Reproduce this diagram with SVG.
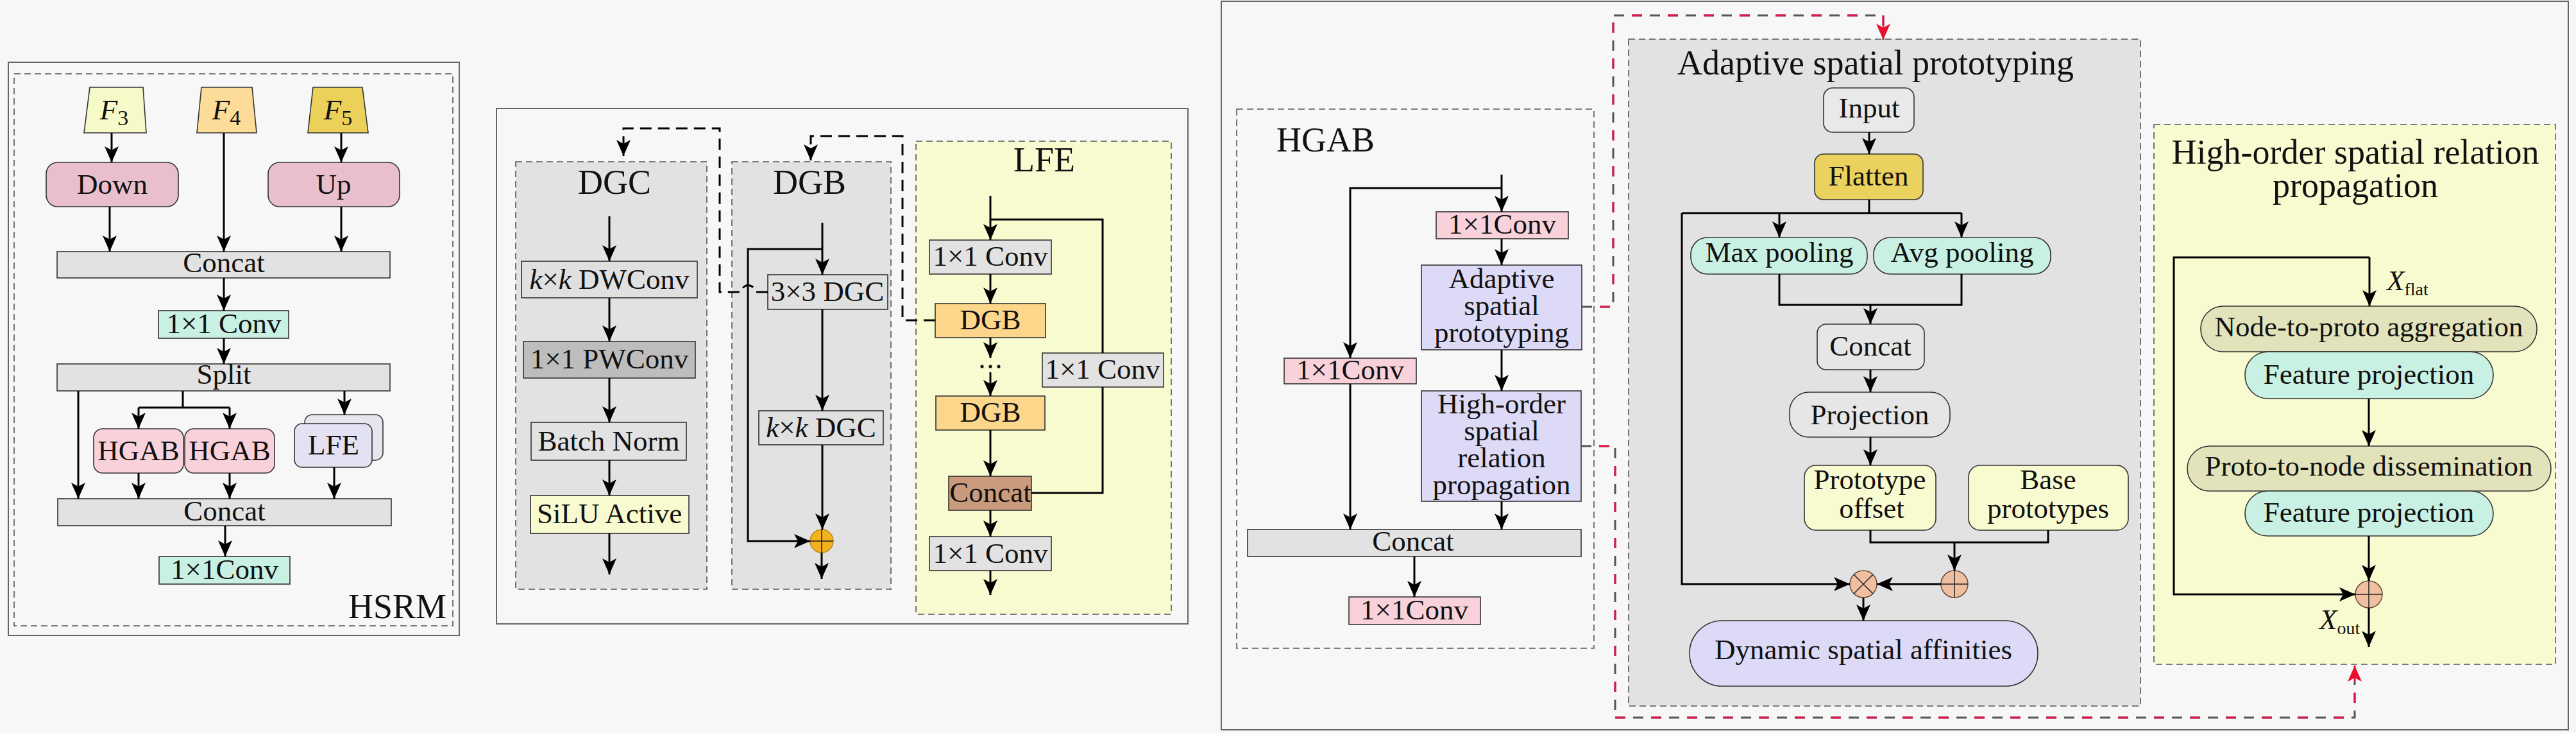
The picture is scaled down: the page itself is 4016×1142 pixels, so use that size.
<svg xmlns="http://www.w3.org/2000/svg" width="4016" height="1142" viewBox="0 0 4016 1142">
<style>
.t{font-family:"Liberation Serif","Times New Roman",serif;font-size:45px;fill:#111;text-anchor:middle}
.tt{font-size:54px}
.st{text-anchor:start}
.en{text-anchor:end}
.it{font-style:italic}
.b{stroke:#333;stroke-width:1.6}
.panel{fill:none;stroke:#666;stroke-width:2}
.dash{stroke:#555;stroke-width:1.6;stroke-dasharray:10 6}
.gray{fill:#e2e2e2}
.teal{fill:#c8f0e3}
.pink{fill:#e9bfcd}
.lpink{fill:#f9d1db}
.lav{fill:#dddaf7}
.yel{fill:#f8fbcf}
.c{fill:none;stroke:#000;stroke-width:3;marker-end:url(#ah)}
.l{fill:none;stroke:#000;stroke-width:3}
.dc{fill:none;stroke:#000;stroke-width:3;stroke-dasharray:18 10;marker-end:url(#ah)}
.rg{fill:none;stroke:#555;stroke-width:3;stroke-dasharray:16 12}
.rr{fill:none;stroke:#e3154b;stroke-width:3;stroke-dasharray:16 40;stroke-dashoffset:0}
.op{stroke:#222;stroke-width:1.5}
</style>
<defs>
<marker id="ah" viewBox="0 0 25 22" refX="25" refY="11" markerWidth="25" markerHeight="22" markerUnits="userSpaceOnUse" orient="auto"><path d="M0,0 L25,11 L0,22 L6,11 z" fill="#000"/></marker>
<marker id="ahr" viewBox="0 0 25 22" refX="25" refY="11" markerWidth="25" markerHeight="22" markerUnits="userSpaceOnUse" orient="auto"><path d="M0,0 L25,11 L0,22 L6,11 z" fill="#e8102f"/></marker>
</defs>
<rect x="0" y="0" width="4016" height="1142" fill="#f7f7f7"/>

<!-- ===== Panel HSRM ===== -->
<g id="hsrm-panel">
<rect x="13" y="97" width="703" height="893" class="panel"/>
<rect x="22" y="115" width="684" height="860" fill="none" class="dash"/>
<text x="696" y="963" class="t tt en">HSRM</text>
</g>
<g id="f3"><polygon points="140,136 223,136 228,207 131,207" fill="#f6fac8" class="b"/><text x="178" y="186" class="t it" font-size="52">F<tspan dy="9" font-size="34" font-style="normal">3</tspan></text></g>
<g id="f4"><polygon points="314,136 393,136 400,207 307,207" fill="#fcdc98" class="b"/><text x="353" y="186" class="t it" font-size="52">F<tspan dy="9" font-size="34" font-style="normal">4</tspan></text></g>
<g id="f5"><polygon points="488,136 565,136 574,207 480,207" fill="#ebd05a" class="b"/><text x="527" y="186" class="t it" font-size="52">F<tspan dy="9" font-size="34" font-style="normal">5</tspan></text></g>
<g id="down"><rect x="72" y="253" width="206" height="69" rx="18" class="pink b"/><text x="175" y="302" class="t" font-size="53">Down</text></g>
<g id="up"><rect x="418" y="253" width="205" height="69" rx="18" class="pink b"/><text x="520" y="302" class="t" font-size="53">Up</text></g>
<g id="hsrm-concat1"><rect x="89" y="392" width="519" height="41" class="gray b"/><text x="349" y="424" class="t">Concat</text></g>
<g id="hsrm-conv1"><rect x="247" y="484" width="203" height="43" class="teal b"/><text x="349" y="519" class="t">1×1 Conv</text></g>
<g id="hsrm-split"><rect x="89" y="567" width="519" height="42" class="gray b"/><text x="349" y="598" class="t">Split</text></g>
<g id="hgab1"><rect x="146" y="668" width="140" height="69" rx="14" class="lpink b"/><text x="216" y="717" class="t" font-size="44">HGAB</text></g>
<g id="hgab2"><rect x="288" y="668" width="140" height="69" rx="14" class="lpink b"/><text x="358" y="717" class="t" font-size="44">HGAB</text></g>
<g id="lfe-node"><rect x="475" y="646" width="122" height="71" rx="12" fill="#e6e6ee" class="b"/><rect x="459" y="660" width="121" height="68" rx="12" fill="#e3e1f2" class="b"/><text x="520" y="708" class="t">LFE</text></g>
<g id="hsrm-concat2"><rect x="90" y="777" width="520" height="42" class="gray b"/><text x="350" y="811" class="t">Concat</text></g>
<g id="hsrm-conv2"><rect x="248" y="867" width="204" height="43" class="teal b"/><text x="350" y="902" class="t">1×1Conv</text></g>

<!-- ===== Middle panel ===== -->
<g id="mid-panel"><rect x="774" y="169" width="1078" height="803" class="panel"/></g>
<g id="dgc"><rect x="804" y="252" width="298" height="666" class="gray dash"/><text x="958" y="302" class="t tt">DGC</text></g>
<g id="dwconv"><rect x="813" y="407" width="274" height="57" fill="#e0e0e0" class="b"/><text x="950" y="450" class="t"><tspan class="it">k</tspan>×<tspan class="it">k</tspan> DWConv</text></g>
<g id="pwconv"><rect x="816" y="532" width="268" height="57" fill="#bdbdbd" class="b"/><text x="950" y="574" class="t">1×1 PWConv</text></g>
<g id="bn"><rect x="828" y="658" width="242" height="59" class="gray b"/><text x="949" y="702" class="t">Batch Norm</text></g>
<g id="silu"><rect x="827" y="772" width="247" height="59" class="yel b"/><text x="950" y="815" class="t">SiLU Active</text></g>

<g id="dgb"><rect x="1141" y="252" width="248" height="666" class="gray dash"/><text x="1262" y="302" class="t tt">DGB</text></g>
<g id="dgc33"><rect x="1197" y="428" width="187" height="54" fill="#e0e0e0" class="b"/><text x="1290" y="469" class="t">3×3 DGC</text></g>
<g id="dgckk"><rect x="1183" y="640" width="194" height="53" fill="#e0e0e0" class="b"/><text x="1280" y="681" class="t"><tspan class="it">k</tspan>×<tspan class="it">k</tspan> DGC</text></g>
<g id="dgb-add"><circle cx="1281" cy="843" r="18" fill="#f5b21f" stroke="#b08a20" stroke-width="1.5"/><path d="M1263,843 H1299 M1281,825 V861" class="op"/></g>

<g id="lfe"><rect x="1428" y="220" width="398" height="737" class="yel dash"/><text x="1628" y="267" class="t tt">LFE</text></g>
<g id="lfe-conv1"><rect x="1449" y="374" width="190" height="53" class="gray b"/><text x="1544" y="414" class="t">1×1 Conv</text></g>
<g id="lfe-dgb1"><rect x="1458" y="473" width="172" height="53" fill="#fcd68a" class="b"/><text x="1544" y="513" class="t">DGB</text></g>
<g id="lfe-dots"><circle cx="1531" cy="571" r="2.6" fill="#111"/><circle cx="1544" cy="571" r="2.6" fill="#111"/><circle cx="1557" cy="571" r="2.6" fill="#111"/></g>
<g id="lfe-dgb2"><rect x="1459" y="617" width="170" height="53" fill="#fcd68a" class="b"/><text x="1544" y="657" class="t">DGB</text></g>
<g id="lfe-concat"><rect x="1479" y="742" width="129" height="53" fill="#c99a7b" class="b"/><text x="1544" y="782" class="t">Concat</text></g>
<g id="lfe-conv2"><rect x="1625" y="550" width="189" height="53" class="gray b"/><text x="1719" y="590" class="t">1×1 Conv</text></g>
<g id="lfe-conv3"><rect x="1449" y="836" width="190" height="53" class="gray b"/><text x="1544" y="877" class="t">1×1 Conv</text></g>

<!-- ===== Right panel ===== -->
<g id="right-panel"><rect x="1904" y="2" width="2100" height="1135" class="panel"/></g>
<g id="hgab"><rect x="1928" y="170" width="557" height="840" fill="#f7f7f7" class="dash"/><text x="1990" y="236" class="t tt st" font-size="52">HGAB</text></g>
<g id="hgab-conv1"><rect x="2239" y="330" width="206" height="42" class="lpink b"/><text x="2342" y="364" class="t">1×1Conv</text></g>
<g id="hgab-asp"><rect x="2216" y="413" width="250" height="132" class="lav b"/><text x="2341" y="449" class="t" font-size="42">Adaptive</text><text x="2341" y="491" class="t" font-size="42">spatial</text><text x="2341" y="533" class="t" font-size="42">prototyping</text></g>
<g id="hgab-conv2"><rect x="2002" y="558" width="206" height="40" class="lpink b"/><text x="2105" y="591" class="t">1×1Conv</text></g>
<g id="hgab-hosrp"><rect x="2216" y="609" width="249" height="172" class="lav b"/><text x="2341" y="644" class="t" font-size="39">High-order</text><text x="2341" y="686" class="t" font-size="39">spatial</text><text x="2341" y="728" class="t" font-size="39">relation</text><text x="2341" y="770" class="t" font-size="39">propagation</text></g>
<g id="hgab-concat"><rect x="1945" y="825" width="520" height="42" class="gray b"/><text x="2203" y="858" class="t">Concat</text></g>
<g id="hgab-conv3"><rect x="2103" y="930" width="205" height="43" class="lpink b"/><text x="2205" y="965" class="t">1×1Conv</text></g>

<g id="asp"><rect x="2539" y="61" width="798" height="1039" class="gray dash"/><text x="2924" y="116" class="t tt">Adaptive spatial prototyping</text></g>
<g id="asp-input"><rect x="2843" y="137" width="141" height="69" rx="14" fill="#e9e9e9" class="b"/><text x="2914" y="183" class="t">Input</text></g>
<g id="asp-flatten"><rect x="2829" y="240" width="169" height="71" rx="14" fill="#ebd15e" class="b"/><text x="2913" y="289" class="t">Flatten</text></g>
<g id="asp-max"><rect x="2636" y="370" width="275" height="57" rx="26" class="teal b"/><text x="2774" y="408" class="t">Max pooling</text></g>
<g id="asp-avg"><rect x="2921" y="370" width="276" height="57" rx="26" class="teal b"/><text x="3059" y="408" class="t">Avg pooling</text></g>
<g id="asp-concat"><rect x="2833" y="505" width="167" height="71" rx="14" fill="#e6e6e6" class="b"/><text x="2916" y="554" class="t">Concat</text></g>
<g id="asp-proj"><rect x="2790" y="611" width="250" height="70" rx="30" fill="#e6e6e6" class="b"/><text x="2915" y="661" class="t">Projection</text></g>
<g id="asp-offset"><rect x="2813" y="725" width="205" height="101" rx="18" class="yel b"/><text x="2915" y="762" class="t" font-size="41">Prototype</text><text x="2918" y="807" class="t" font-size="41">offset</text></g>
<g id="asp-base"><rect x="3069" y="725" width="249" height="101" rx="18" class="yel b"/><text x="3193" y="762" class="t" font-size="41">Base</text><text x="3193" y="807" class="t" font-size="41">prototypes</text></g>
<g id="asp-mul"><circle cx="2905" cy="910" r="21" fill="#efbfa0" stroke="#6a4a3a" stroke-width="1.5"/><path d="M2890,895 L2920,925 M2920,895 L2890,925" class="op"/></g>
<g id="asp-add"><circle cx="3047" cy="910" r="21" fill="#efbfa0" stroke="#6a4a3a" stroke-width="1.5"/><path d="M3026,910 H3068 M3047,889 V931" class="op"/></g>
<g id="asp-dyn"><rect x="2634" y="967" width="543" height="102" rx="51" class="lav b"/><text x="2905" y="1027" class="t">Dynamic spatial affinities</text></g>

<g id="hosrp"><rect x="3358" y="194" width="626" height="841" class="yel dash"/><text x="3672" y="255" class="t tt">High-order spatial relation</text><text x="3672" y="307" class="t tt">propagation</text></g>
<g id="hosrp-xflat"><text x="3721" y="452" class="t st it" font-size="43">X<tspan dy="8" font-size="28" font-style="normal">flat</tspan></text></g>
<g id="hosrp-n2p"><rect x="3431" y="477" width="524" height="71" rx="35" fill="#e2e3bb" class="b"/><text x="3693" y="524" class="t">Node-to-proto aggregation</text></g>
<g id="hosrp-fp1"><rect x="3500" y="548" width="387" height="73" rx="36" class="teal b"/><text x="3693" y="598" class="t">Feature projection</text></g>
<g id="hosrp-p2n"><rect x="3410" y="695" width="567" height="70" rx="35" fill="#e2e3bb" class="b"/><text x="3693" y="741" class="t">Proto-to-node dissemination</text></g>
<g id="hosrp-fp2"><rect x="3500" y="765" width="387" height="70" rx="35" class="teal b"/><text x="3693" y="813" class="t">Feature projection</text></g>
<g id="hosrp-add"><circle cx="3693" cy="926" r="21" fill="#efbfa0" stroke="#6a4a3a" stroke-width="1.5"/><path d="M3672,926 H3714 M3693,905 V947" class="op"/></g>
<g id="hosrp-xout"><text x="3616" y="980" class="t st it" font-size="43">X<tspan dy="8" font-size="28" font-style="normal">out</tspan></text></g>

<!-- ===== Connectors ===== -->
<g id="connectors">
<path d="M174,207 V253" class="c"/>
<path d="M532,207 V253" class="c"/>
<path d="M171,322 V392" class="c"/>
<path d="M349,207 V392" class="c"/>
<path d="M532,322 V392" class="c"/>
<path d="M349,433 V484" class="c"/>
<path d="M349,527 V567" class="c"/>
<path d="M122,609 V777" class="c"/>
<path d="M285,609 V635 M216,635 H358" class="l"/>
<path d="M216,635 V668" class="c"/>
<path d="M358,635 V668" class="c"/>
<path d="M537,609 V646" class="c"/>
<path d="M216,737 V777" class="c"/>
<path d="M358,737 V777" class="c"/>
<path d="M521,728 V777" class="c"/>
<path d="M351,819 V867" class="c"/>

<path d="M950,337 V407" class="c"/>
<path d="M950,464 V532" class="c"/>
<path d="M950,589 V658" class="c"/>
<path d="M950,717 V772" class="c"/>
<path d="M950,831 V895" class="c"/>

<path d="M1282,347 V428" class="c"/>
<path d="M1282,388 H1166 V843 H1263" class="c"/>
<path d="M1282,482 V640" class="c"/>
<path d="M1282,693 V825" class="c"/>
<path d="M1281,861 V902" class="c"/>
<path d="M1197,455 H1177 A10,10 0 0 0 1156,455 H1122 V200 H972 V243" class="dc"/>
<path d="M1458,499 H1407 V212 H1264 V250" class="dc"/>

<path d="M1544,305 V374" class="c"/>
<path d="M1544,342 H1719 V550" class="l"/>
<path d="M1544,427 V473" class="c"/>
<path d="M1544,526 V558" class="c"/>
<path d="M1544,580 V617" class="c"/>
<path d="M1544,670 V742" class="c"/>
<path d="M1719,603 V768 H1608" class="l"/>
<path d="M1544,795 V836" class="c"/>
<path d="M1544,889 V927" class="c"/>

<path d="M2341,272 V330" class="c"/>
<path d="M2341,293 H2105 V558" class="c"/>
<path d="M2341,372 V413" class="c"/>
<path d="M2341,545 V609" class="c"/>
<path d="M2105,598 V825" class="c"/>
<path d="M2341,781 V825" class="c"/>
<path d="M2205,867 V930" class="c"/>

<path d="M2466,478 H2515 V24 H2936 V62" class="rg"/>
<path d="M2466,478 H2515 V24 H2936 V62" class="rr" style="stroke-dashoffset:-28"/>
<path d="M2936,40 V62" fill="none" stroke="#e3154b" stroke-width="2" marker-end="url(#ahr)"/>
<path d="M2465,695 H2518 V1118 H3671 V1037" class="rg"/>
<path d="M2465,695 H2518 V1118 H3671 V1037" class="rr" style="stroke-dashoffset:-28"/>
<path d="M3671,1062 V1037" fill="none" stroke="#e3154b" stroke-width="2" marker-end="url(#ahr)"/>

<path d="M2914,206 V240" class="c"/>
<path d="M2914,311 V332 M2622,332 H3058" class="l"/>
<path d="M2774,332 V370" class="c"/>
<path d="M3058,332 V370" class="c"/>
<path d="M2774,427 V475 H3058 V427" class="l"/>
<path d="M2916,475 V505" class="c"/>
<path d="M2916,576 V611" class="c"/>
<path d="M2916,681 V725" class="c"/>
<path d="M2916,826 V845 H3193 V826" class="l"/>
<path d="M3047,845 V889" class="c"/>
<path d="M3026,910 H2926" class="c"/>
<path d="M2622,332 V910 H2884" class="c"/>
<path d="M2905,931 V967" class="c"/>

<path d="M3694,401 V477" class="c"/>
<path d="M3694,401 H3389 V926 H3672" class="c"/>
<path d="M3693,621 V695" class="c"/>
<path d="M3693,835 V905" class="c"/>
<path d="M3693,947 V1008" class="c"/>
</g>
</svg>
